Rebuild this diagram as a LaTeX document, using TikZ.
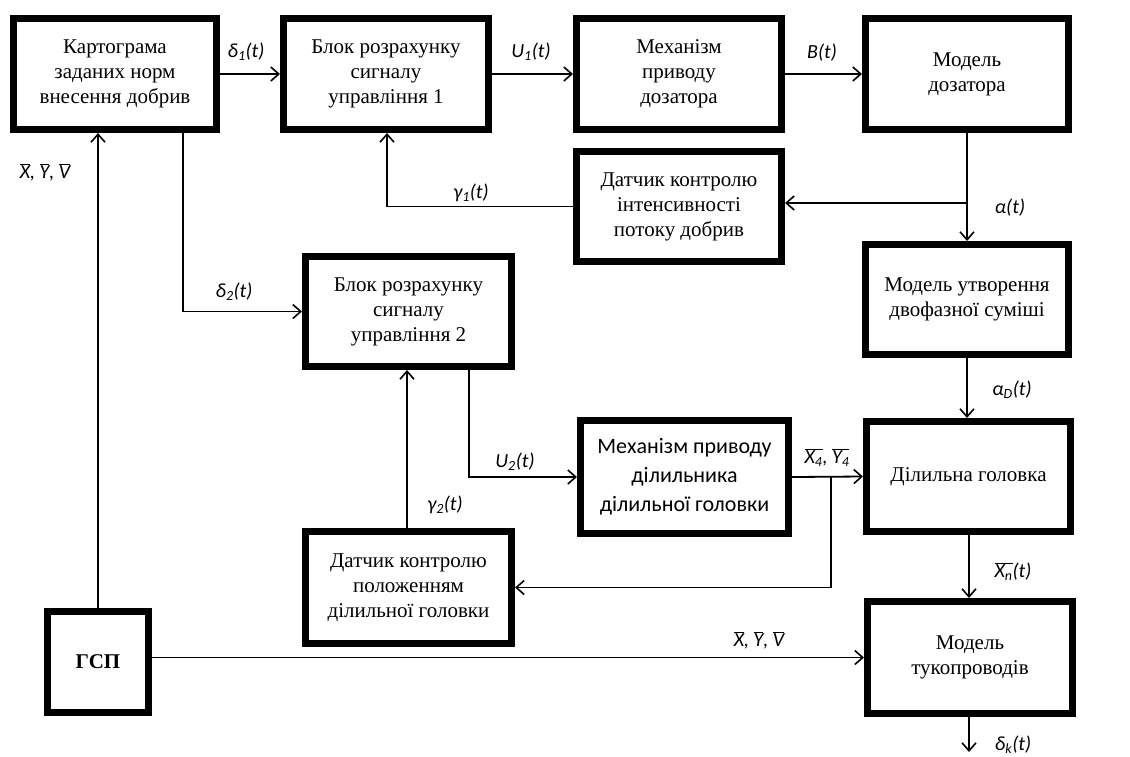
\documentclass[tikz,border=0pt]{standalone}
\usepackage{fontspec}
\setmainfont{Liberation Serif}
\newfontfamily\calfont{Carlito}
\usetikzlibrary{arrows.meta}
\newcommand\ovl[1]{$\overline{\hbox{#1}}$}
\begin{document}
\begin{tikzpicture}[x=1pt,y=-1pt,
 box/.style={draw, line width=7pt, align=center, inner sep=0pt, font=\fontsize{21}{25}\selectfont},
 sansbox/.style={box, font=\calfont\fontsize{22}{29}\selectfont},
 conn/.style={line width=1.8pt},
 arr/.style={conn, -{Straight Barb[length=8pt,width=14pt,line width=1.6pt]}},
 lbl/.style={font=\calfont\itshape\fontsize{20}{22}\selectfont, inner sep=0pt}]
\useasboundingbox (0,0) rectangle (1130,756);
\fill[white] (0,0) rectangle (1130,756);

% boxes
\node[box, minimum width=203pt, minimum height=111pt] (b1) at (115,74) {Картограма\\заданих норм\\внесення добрив};
\node[box, minimum width=205pt, minimum height=111pt] (b2) at (386,74) {Блок розрахунку\\сигналу\\управління 1};
\node[box, minimum width=205pt, minimum height=111pt] (b3) at (679,74) {Механізм\\приводу\\дозатора};
\node[box, minimum width=203pt, minimum height=111pt] (b4) at (967,74) {Модель\\дозатора};
\node[box, minimum width=205pt, minimum height=110pt] (b5) at (679,206.5) {Датчик контролю\\інтенсивності\\потоку добрив};
\node[box, minimum width=203pt, minimum height=110pt] (b6) at (967,299.5) {Модель утворення\\двофазної суміші};
\node[box, minimum width=206pt, minimum height=110pt] (b7) at (408.5,311.5) {Блок розрахунку\\сигналу\\управління 2};
\node[sansbox, minimum width=208pt, minimum height=113pt] (b8) at (684.5,477) {Механізм приводу\\ділильника\\ділильної головки};
\node[box, minimum width=204pt, minimum height=110pt] (b9) at (968.5,476.5) {Ділильна головка};
\node[box, minimum width=206pt, minimum height=112pt] (b10) at (408.5,587.5) {Датчик контролю\\положенням\\ділильної головки};
\node[box, minimum width=101pt, minimum height=101pt, font=\bfseries\fontsize{21}{25}\selectfont] (b11) at (98,662) {ГСП};
\node[box, minimum width=205pt, minimum height=112pt] (b12) at (970,657.5) {Модель\\тукопроводів};

\coordinate (j1) at (967,203);
\coordinate (j2) at (831,477);
\coordinate (out) at (969,752);

% connectors
\draw[arr] (b1.east) -- (b2.west);
\draw[arr] (b2.east) -- (b3.west);
\draw[arr] (b3.east) -- (b4.west);
\draw[arr] (b4.south) -- (b4.south |- b6.north);
\draw[arr] (j1) -- (j1 -| b5.east);
\draw[arr] (b5.west) -| ([xshift=1pt]b2.south);
\draw[arr] ([xshift=68pt]b1.south) |- (b7.west);
\draw[arr] (b11.north) -- (b11.north |- b1.south);
\draw[arr] (b11.east |- b12.west) -- (b12.west);
\draw[arr] ([xshift=60.5pt]b7.south) |- (b8.west);
\draw[arr] ([xshift=-1.5pt]b10.north) -- ([xshift=-1.5pt]b7.south);
\draw[arr] (b8.east) -- (b9.west);
\draw[arr] (j2) |- (b10.east);
\draw[arr] (b6.south) -- (b6.south |- b9.north);
\draw[arr] ([xshift=0.5pt]b9.south) -- ([xshift=0.5pt]b9.south |- b12.north);
\draw[arr] ([xshift=-1pt]b12.south) -- (out);

% labels
\node[lbl] (l1) at (246,52) {δ\textsubscript{1}(t)};
\node[lbl] (l2) at (531,52) {U\textsubscript{1}(t)};
\node[lbl] (l3) at (822,53) {B(t)};
\node[lbl] (l4) at (471,193) {γ\textsubscript{1}(t)};
\node[lbl] (l5) at (1010,208) {α(t)};
\node[lbl] (l6) at (45,172) {\ovl{X}, \ovl{Y}, \ovl{V}};
\node[lbl] (l7) at (234,292) {δ\textsubscript{2}(t)};
\node[lbl] (l8) at (1012,390) {α\textsubscript{D}(t)};
\node[lbl] (l9) at (515,462) {U\textsubscript{2}(t)};
\node[lbl] (l10) at (445,505) {γ\textsubscript{2}(t)};
\node[lbl] (l11) at (827,458) {\ovl{X\textsubscript{4}}, \ovl{Y\textsubscript{4}}};
\node[lbl] (l12) at (1013,572) {\ovl{X\textsubscript{n}}(t)};
\node[lbl] (l13) at (759,640) {\ovl{X}, \ovl{Y}, \ovl{V}};
\node[lbl] (l14) at (1013,745) {δ\textsubscript{k}(t)};
\end{tikzpicture}
\end{document}
